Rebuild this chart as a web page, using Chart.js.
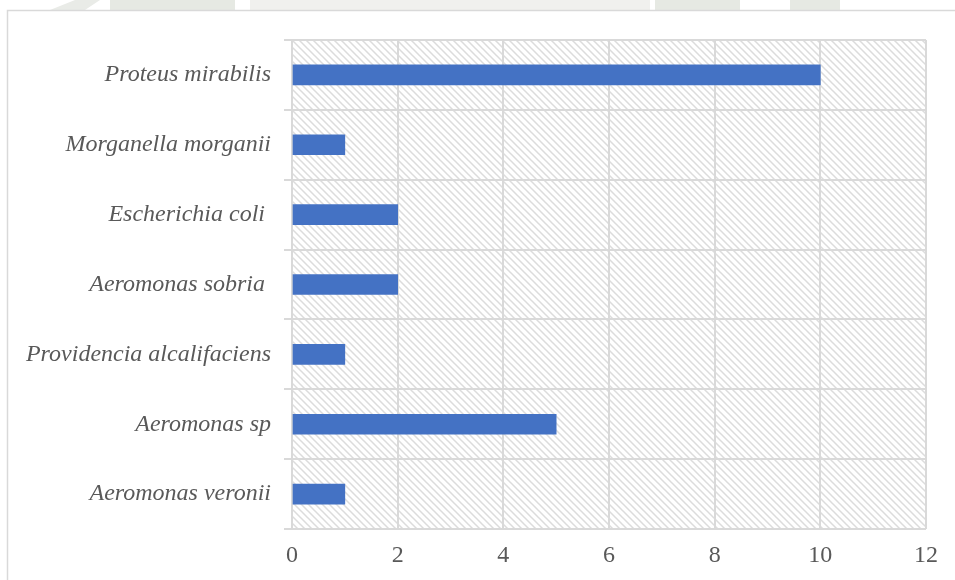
<!DOCTYPE html>
<html>
<head>
<meta charset="utf-8">
<script src="https://cdn.jsdelivr.net/npm/chart.js@4/dist/chart.umd.min.js"></script>
<style>
  html, body { margin: 0; padding: 0; background: #ffffff; }
  #wrap { position: relative; width: 955px; height: 580px; }
  canvas { display: block; }
</style>
</head>
<body>
<div id="wrap"><canvas id="c" width="955" height="580"></canvas></div>
<script>
// Species, listed from the top bar down
const species = [
  'Proteus mirabilis',
  'Morganella morganii',
  'Escherichia coli ',
  'Aeromonas sobria ',
  'Providencia alcalifaciens',
  'Aeromonas sp',
  'Aeromonas veronii'
];
// Number of isolates per species
const isolates = [10, 1, 2, 2, 1, 5, 1];
// Value axis range and step
const axisMin = 0;
const axisMax = 12;
const axisStep = 2;

const labelFont = { family: "'Liberation Serif', 'Times New Roman', serif", size: 24 };
const gridGrey = '#d9d9d9';

// Diagonal hatch used to fill the plot area
function makeHatch() {
  const s = 7;
  const p = document.createElement('canvas');
  p.width = s; p.height = s;
  const g = p.getContext('2d');
  g.fillStyle = '#ffffff';
  g.fillRect(0, 0, s, s);
  g.strokeStyle = '#dcdcdc';
  g.lineWidth = 1.5;
  g.beginPath();
  g.moveTo(-1, -1); g.lineTo(s + 1, s + 1);
  g.moveTo(-1, s - 1); g.lineTo(1, s + 1);
  g.moveTo(s - 1, -1); g.lineTo(s + 1, 1);
  g.stroke();
  return g.createPattern(p, 'repeat');
}

const backdrop = {
  id: 'backdrop',
  beforeDraw(chart) {
    const ctx = chart.ctx;
    const a = chart.chartArea;
    ctx.save();
    // faint letterhead strip along the top edge
    ctx.fillStyle = '#e6e9e3';
    ctx.fillRect(110, 0, 125, 10);
    ctx.fillRect(655, 0, 85, 10);
    ctx.fillRect(790, 0, 50, 10);
    ctx.fillStyle = '#f0f0ee';
    ctx.fillRect(250, 0, 400, 10);
    ctx.fillStyle = '#e9ebe7';
    ctx.beginPath();
    ctx.moveTo(50, 10); ctx.lineTo(75, 0); ctx.lineTo(100, 0); ctx.lineTo(85, 10);
    ctx.closePath();
    ctx.fill();
    // outer frame
    ctx.strokeStyle = gridGrey;
    ctx.lineWidth = 1.5;
    ctx.beginPath();
    ctx.moveTo(7.5, 580); ctx.lineTo(7.5, 10.5); ctx.lineTo(955, 10.5);
    ctx.stroke();
    // hatched plot area
    ctx.fillStyle = makeHatch();
    ctx.fillRect(a.left, a.top, a.right - a.left, a.bottom - a.top);
    ctx.restore();
  }
};

new Chart(document.getElementById('c'), {
  type: 'bar',
  data: {
    labels: species,
    datasets: [{
      data: isolates,
      backgroundColor: '#4472c4',
      borderWidth: 0,
      barThickness: 20
    }]
  },
  options: {
    indexAxis: 'y',
    responsive: false,
    animation: false,
    devicePixelRatio: 1,
    layout: { padding: { top: 40, right: 29, left: 0, bottom: 0 } },
    plugins: { legend: { display: false }, tooltip: { enabled: false } },
    scales: {
      x: {
        min: axisMin,
        max: axisMax,
        ticks: { stepSize: axisStep, color: '#595959', font: labelFont, padding: 12 },
        grid: { color: gridGrey, lineWidth: 2, drawTicks: false },
        border: { display: false },
        afterFit(scale) { scale.height = 51; }
      },
      y: {
        offset: true,
        ticks: { color: '#595959', font: Object.assign({ style: 'italic' }, labelFont), padding: 13 },
        grid: { color: gridGrey, lineWidth: 2, offset: true, drawTicks: true, tickLength: 8 },
        border: { color: gridGrey, width: 2 },
        afterFit(scale) { scale.width = 292; }
      }
    }
  },
  plugins: [backdrop]
});
</script>
</body>
</html>
